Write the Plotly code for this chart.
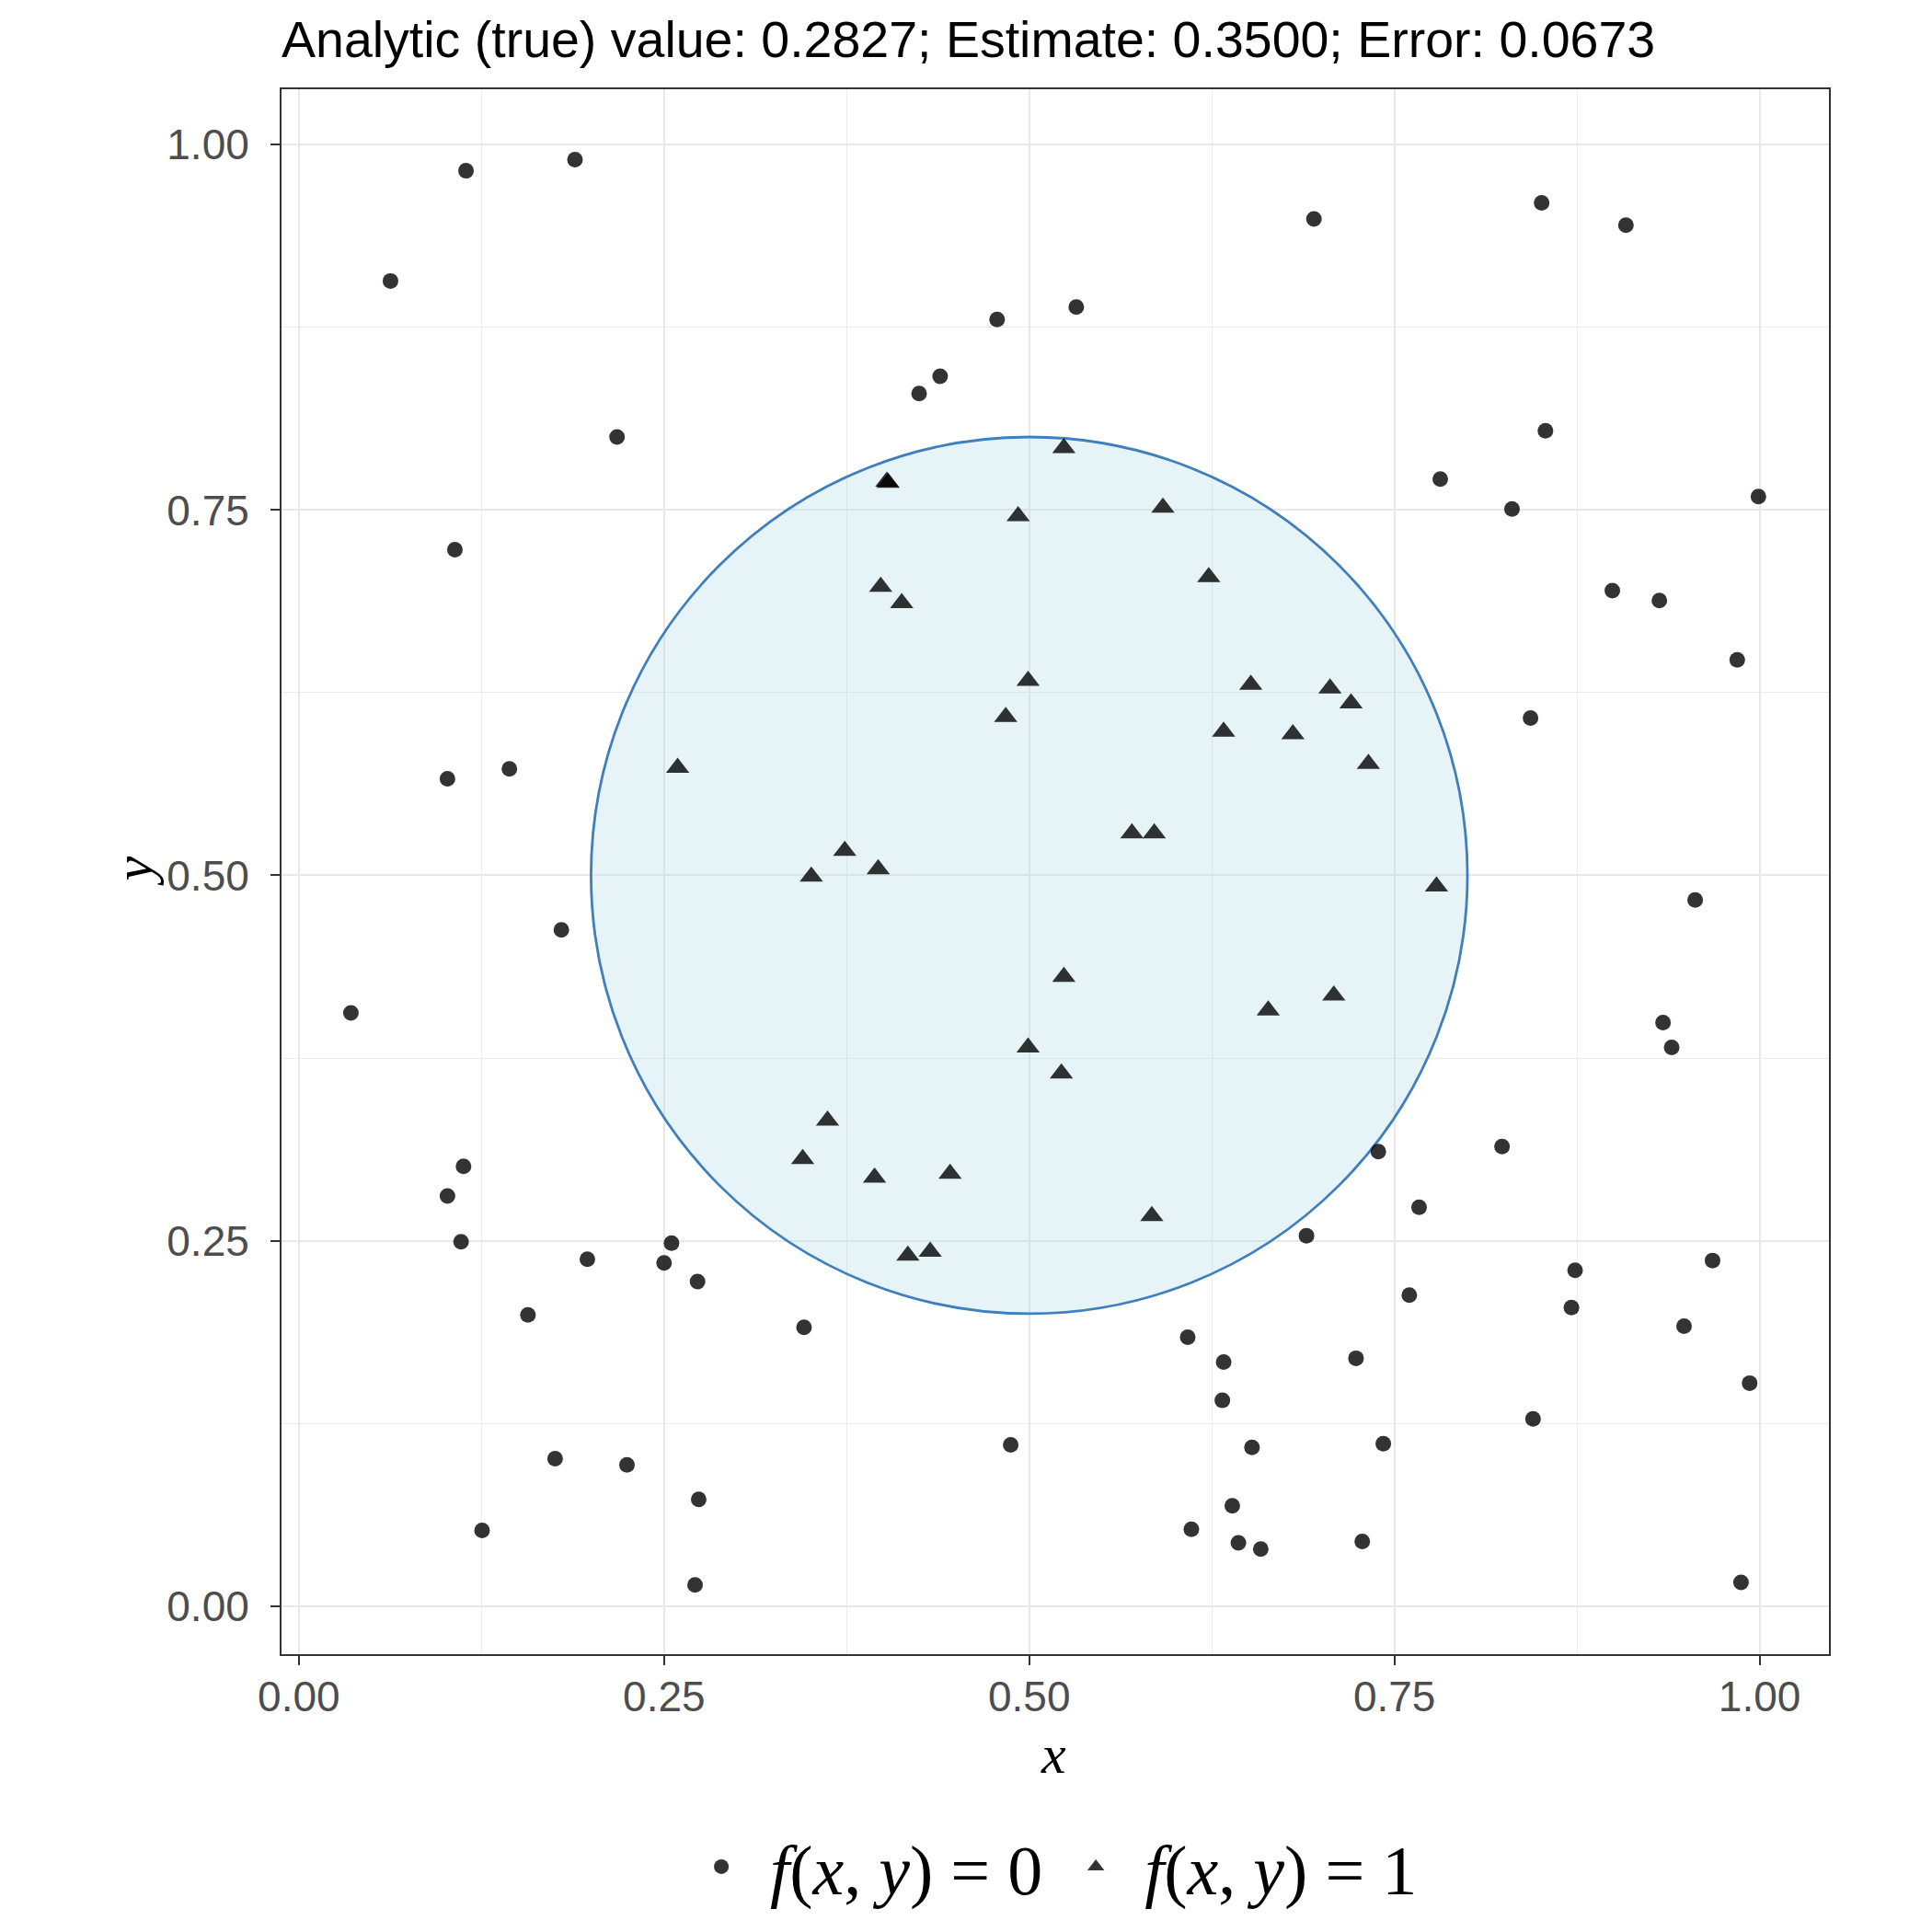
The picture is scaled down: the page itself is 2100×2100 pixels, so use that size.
import plotly.graph_objects as go

# f(x,y) = 0 points
x0 = [0.0627, 0.1144, 0.1890, 0.2178, 0.1068, 0.1017, 0.1441, 0.1797, 0.0356, 0.1127,
      0.1017, 0.1110, 0.1975, 0.1568, 0.2500, 0.2551, 0.2729, 0.1754, 0.2246, 0.1254,
      0.2737, 0.2712, 0.3458, 0.4780, 0.5322, 0.4246, 0.4390, 0.6949, 0.8508, 0.9085,
      0.8534, 0.7814, 0.8305, 0.9992, 0.8992, 0.9314, 0.9847, 0.8432, 0.9559, 0.9339,
      0.9398, 0.8237, 0.7390, 0.7669, 0.6898, 0.8737, 0.9678, 0.7602, 0.8712, 0.9483,
      0.6085, 0.6331, 0.7237, 0.6322, 0.8449, 0.9932, 0.4873, 0.6525, 0.7424, 0.6390,
      0.6110, 0.6432, 0.6585, 0.7280, 0.9873]
y0 = [0.9068, 0.9822, 0.9898, 0.8000, 0.7229, 0.5661, 0.5729, 0.4627, 0.4059, 0.3008,
      0.2805, 0.2492, 0.2373, 0.1992, 0.2347, 0.2483, 0.2220, 0.1008, 0.0966, 0.0517,
      0.0729, 0.0144, 0.1907, 0.8805, 0.8890, 0.8297, 0.8415, 0.9492, 0.9602, 0.9449,
      0.8042, 0.7712, 0.7508, 0.7593, 0.6949, 0.6881, 0.6475, 0.6076, 0.4831, 0.3992,
      0.3822, 0.3144, 0.3110, 0.2729, 0.2534, 0.2297, 0.2364, 0.2127, 0.2042, 0.1915,
      0.1839, 0.1669, 0.1695, 0.1407, 0.1280, 0.1525, 0.1102, 0.1085, 0.1110, 0.0686,
      0.0525, 0.0432, 0.0390, 0.0441, 0.0161]

# f(x,y) = 1 points
x1 = [0.5237, 0.4025, 0.4034, 0.4924, 0.5915, 0.3983, 0.4127, 0.6229, 0.4992, 0.4839,
      0.6517, 0.7059, 0.7203, 0.6331, 0.6805, 0.7322, 0.2593, 0.5703, 0.5856, 0.3737,
      0.3508, 0.3966, 0.7788, 0.5237, 0.7085, 0.6636, 0.4992, 0.5220, 0.3619, 0.3449,
      0.3941, 0.4458, 0.5839, 0.4169, 0.4322]
y1 = [0.7924, 0.7695, 0.7686, 0.7458, 0.7517, 0.6975, 0.6864, 0.7042, 0.6331, 0.6085,
      0.6305, 0.6280, 0.6178, 0.5983, 0.5966, 0.5763, 0.5737, 0.5288, 0.5288, 0.5169,
      0.4992, 0.5042, 0.4924, 0.4305, 0.4178, 0.4076, 0.3822, 0.3644, 0.3322, 0.3059,
      0.2932, 0.2958, 0.2669, 0.2398, 0.2424]

circle_cx, circle_cy, circle_r = 0.5, 0.5, 0.3
title_text = "Analytic (true) value: 0.2827; Estimate: 0.3500; Error: 0.0673"
tick_vals = [0.0, 0.25, 0.5, 0.75, 1.0]
tick_text = ["0.00", "0.25", "0.50", "0.75", "1.00"]

W = H = 2100
L, R, T, B = 298, 120, 89, 310
PW, PH = W - L - R, H - T - B

fig = go.Figure()
fig.add_trace(go.Scatter(
    x=x0, y=y0, mode="markers", name="<i>f</i>(<i>x</i>, <i>y</i>) = 0",
    marker=dict(symbol="circle", size=17, color="rgba(0,0,0,0.8)", line=dict(width=0)),
))
fig.add_trace(go.Scatter(
    x=x1, y=y1, mode="markers", name="<i>f</i>(<i>x</i>, <i>y</i>) = 1",
    marker=dict(symbol="triangle-up", size=22, color="rgba(0,0,0,0.8)", line=dict(width=0)),
))

fig.add_shape(
    type="circle", xref="x", yref="y",
    x0=circle_cx - circle_r, x1=circle_cx + circle_r,
    y0=circle_cy - circle_r, y1=circle_cy + circle_r,
    fillcolor="rgba(173,216,230,0.3)", line=dict(color="#3f7fbd", width=2.8),
    layer="between",
)

axis_common = dict(
    tickvals=tick_vals, ticktext=tick_text,
    showgrid=True, gridcolor="#e8e8e8", gridwidth=2.3,
    minor=dict(tick0=0.125, dtick=0.25, showgrid=True, gridcolor="#ebebeb", gridwidth=1.2, ticks=""),
    zeroline=False,
    showline=True, mirror=True, linecolor="#333333", linewidth=2,
    ticks="outside", ticklen=10, tickwidth=2, tickcolor="#333333",
    tickfont=dict(family="Liberation Sans, Arial, sans-serif", size=46, color="#4d4d4d"),
)

fig.update_layout(
    width=W, height=H,
    margin=dict(l=L, r=R, t=T, b=B),
    plot_bgcolor="white", paper_bgcolor="white",
    title=dict(text=title_text, x=0, xref="paper", xanchor="left",
               y=1 - 35 / H, yref="container", yanchor="middle",
               font=dict(family="Liberation Sans, Arial, sans-serif", size=55.5, color="black")),
    xaxis=dict(range=[-0.0119, 1.0475], ticklabelstandoff=-5, **axis_common),
    yaxis=dict(range=[-0.033, 1.038], ticklabelstandoff=14, **axis_common),
    showlegend=True,
    legend=dict(orientation="h", x=0.495, xanchor="center", y=-(2021 - (H - B)) / PH,
                yanchor="middle", itemwidth=96,
                font=dict(family="Liberation Serif, Times New Roman, serif", size=76, color="black"),
                bgcolor="rgba(0,0,0,0)"),
    annotations=[
        dict(text="<i>x</i>", xref="paper", yref="paper", x=(1137 - L) / PW,
             y=-(1899 - (H - B)) / PH, xanchor="center", yanchor="middle", showarrow=False,
             font=dict(family="Liberation Serif, Times New Roman, serif", size=60, color="black")),
        dict(text="<i>y</i>", xref="paper", yref="paper", x=-(L - 136) / PW,
             y=0.5, xanchor="center", yanchor="middle",
             showarrow=False, textangle=-90,
             font=dict(family="Liberation Serif, Times New Roman, serif", size=60, color="black")),
    ],
)

fig.write_html("out.html")
